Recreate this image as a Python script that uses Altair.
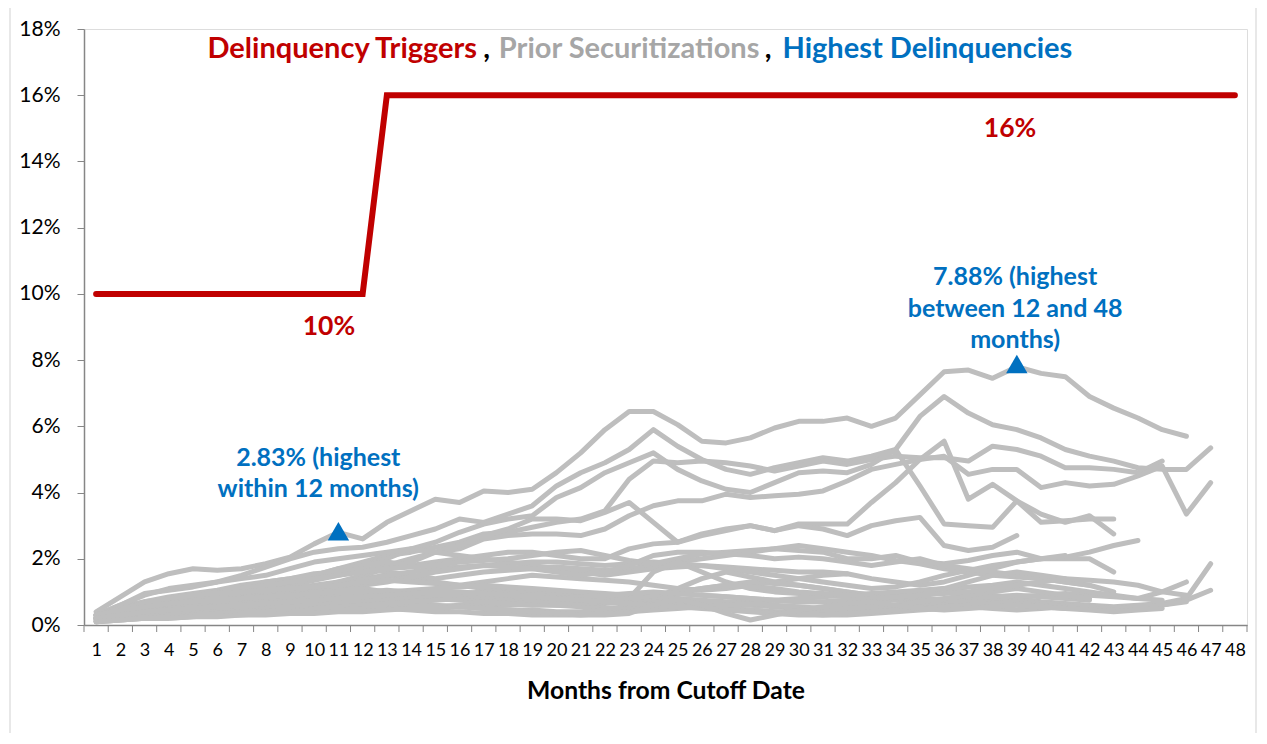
import altair as alt
import pandas as pd

# ---------------- data ----------------
months = list(range(1, 49))

trigger = [10, 10, 10, 10, 10, 10, 10, 10, 10, 10, 10, 10,
           16, 16, 16, 16, 16, 16, 16, 16, 16, 16, 16, 16,
           16, 16, 16, 16, 16, 16, 16, 16, 16, 16, 16, 16,
           16, 16, 16, 16, 16, 16, 16, 16, 16, 16, 16, 16]

deal_01 = [0.4, 0.85, 1.3, 1.55, 1.7, 1.65, 1.7, 1.85, 2.05, 2.45, 2.8, 2.6,
           3.1, 3.45, 3.8, 3.7, 4.05, 4.0, 4.1, 4.6, 5.2, 5.9, 6.45, 6.45,
           6.05, 5.55, 5.5, 5.65, 5.95, 6.15, 6.15, 6.25, 6.0, 6.25, 6.95, 7.65,
           7.7, 7.45, 7.8, 7.6, 7.5, 6.9, 6.55, 6.25, 5.9, 5.7]
deal_02 = [0.3, 0.6, 0.95, 1.05, 1.15, 1.3, 1.5, 1.75, 2.0, 2.2, 2.3, 2.35,
           2.5, 2.7, 2.9, 3.2, 3.1, 3.35, 3.6, 4.2, 4.6, 4.9, 5.3, 5.9,
           5.4, 5.0, 4.7, 4.55, 4.75, 4.9, 5.05, 4.95, 5.1, 5.3, 6.3, 6.9,
           6.4, 6.05, 5.9, 5.65, 5.3, 5.1, 4.95, 4.75, 4.7, 4.7, 5.35]
deal_03 = [0.25, 0.45, 0.6, 0.75, 0.85, 0.95, 1.05, 1.2, 1.35, 1.5, 1.7, 1.9,
           2.1, 2.2, 2.35, 2.5, 2.75, 2.8, 2.95, 3.1, 3.2, 3.45, 4.4, 4.95,
           4.9, 4.95, 4.9, 4.8, 4.65, 4.8, 4.95, 4.85, 5.0, 5.1, 5.05, 5.05,
           4.95, 5.4, 5.3, 5.1, 4.75, 4.75, 4.7, 4.6, 4.95]
deal_04 = [0.2, 0.35, 0.5, 0.6, 0.7, 0.85, 0.95, 1.1, 1.2, 1.35, 1.5, 1.65,
           1.8, 2.0, 2.2, 2.3, 2.6, 2.7, 2.75, 2.75, 2.7, 2.9, 3.3, 3.6,
           3.75, 3.75, 3.95, 3.85, 3.9, 3.95, 4.05, 4.35, 4.7, 4.85, 5.0, 5.1,
           4.55, 4.7, 4.7, 4.15, 4.3, 4.2, 4.25, 4.5, 4.8, 3.35, 4.3]
deal_05 = [0.15, 0.3, 0.4, 0.5, 0.6, 0.7, 0.8, 0.9, 1.0, 1.1, 1.3, 1.5,
           1.7, 1.9, 2.2, 2.4, 2.7, 2.9, 3.2, 3.2, 3.15, 3.4, 3.7, 3.1,
           2.5, 2.75, 2.9, 3.0, 2.85, 3.05, 3.05, 3.05, 3.7, 4.3, 5.0, 5.55,
           3.8, 4.25, 3.75, 3.1, 3.15, 3.2, 3.2]
deal_06 = [0.2, 0.4, 0.55, 0.7, 0.8, 0.9, 1.0, 1.15, 1.3, 1.45, 1.6, 1.8,
           2.0, 2.3, 2.5, 2.8, 3.05, 3.2, 3.3, 3.85, 4.15, 4.6, 4.9, 5.2,
           4.7, 4.35, 4.1, 4.0, 4.3, 4.6, 4.65, 4.6, 4.85, 5.3, 4.2, 3.05,
           3.0, 2.95, 3.75, 3.35, 3.1, 3.3, 2.75]
deal_07 = [0.3, 0.5, 0.7, 0.8, 0.9, 1.0, 1.1, 1.3, 1.4, 1.5, 1.7, 1.8,
           1.9, 1.8, 1.9, 2.0, 2.1, 2.2, 2.2, 2.1, 2.0, 2.0, 2.3, 2.45,
           2.5, 2.7, 2.85, 3.0, 2.85, 3.0, 2.9, 2.7, 3.0, 3.15, 3.25, 2.4,
           2.25, 2.35, 2.7]
deal_08 = [0.2, 0.35, 0.5, 0.6, 0.75, 0.85, 0.9, 1.0, 1.1, 1.2, 1.3, 1.4,
           1.5, 1.4, 1.3, 1.2, 1.3, 1.4, 1.5, 1.45, 1.4, 1.35, 1.3, 1.2,
           1.1, 1.05, 1.1, 1.2, 1.3, 1.4, 1.5, 1.55, 1.4, 1.3, 1.2, 1.3,
           1.5, 1.7, 1.9, 2.0, 2.05, 2.2, 2.4, 2.55]
deal_09 = [0.3, 0.55, 0.7, 0.85, 0.95, 1.05, 1.2, 1.3, 1.4, 1.55, 1.6, 1.7,
           1.6, 1.5, 1.4, 1.5, 1.6, 1.65, 1.7, 1.75, 1.7, 1.65, 1.7, 1.8,
           1.9, 2.0, 2.1, 2.2, 2.3, 2.25, 2.2, 2.0, 2.0, 2.1, 1.9, 1.85,
           1.95, 2.1, 2.2, 2.0, 2.0, 2.0, 1.6]
deal_10 = [0.3, 0.6, 0.9, 1.1, 1.2, 1.3, 1.4, 1.5, 1.7, 1.9, 2.0, 2.1,
           2.2, 2.3, 2.2, 2.1, 2.0, 1.9, 1.8, 1.7, 1.6, 1.5, 1.6, 1.7,
           1.75, 1.8, 1.75, 1.7, 1.65, 1.6, 1.6, 1.55]
deal_11 = [0.2, 0.4, 0.55, 0.65, 0.75, 0.85, 0.95, 1.0, 1.05, 1.1, 1.2, 1.35,
           1.5, 1.6, 1.7, 1.75, 1.8, 1.85, 1.9, 1.9, 1.85, 1.8, 1.85, 1.9,
           1.85, 1.8, 1.7, 1.6, 1.5, 1.4, 1.3, 1.2, 1.1, 1.15, 1.3, 1.5,
           1.65, 1.8, 1.9, 2.0, 2.1]
deal_12 = [0.25, 0.5, 0.65, 0.8, 0.9, 1.0, 1.1, 1.2, 1.3, 1.4, 1.5, 1.6,
           1.7, 1.75, 1.8, 1.9, 1.95, 2.0, 2.1, 2.2, 2.25, 2.1, 1.95, 1.85,
           2.0, 2.15, 2.2, 2.25, 2.3, 2.4, 2.3, 2.2, 2.1, 1.95, 1.85, 1.7,
           1.6, 1.5, 1.45, 1.4, 1.3, 1.2]
deal_13 = [0.2, 0.35, 0.45, 0.55, 0.65, 0.75, 0.8, 0.9, 1.0, 1.05, 1.1, 1.2,
           1.3, 1.45, 1.6, 1.7, 1.8, 1.75, 1.7, 1.6, 1.5, 1.6, 1.8, 2.1,
           2.2, 2.2, 2.15, 2.1, 2.0, 2.05, 2.0, 1.9, 1.8, 1.9, 2.0, 1.8,
           1.7, 1.6, 1.5, 1.4, 1.3, 1.2, 1.0]
deal_14 = [0.1, 0.15, 0.2, 0.2, 0.25, 0.3, 0.3, 0.35, 0.4, 0.4, 0.45, 0.5,
           0.5, 0.55, 0.55, 0.6, 0.6, 0.6, 0.65, 0.6, 0.6, 0.65, 0.7, 0.75,
           0.7, 0.7, 0.65, 0.6, 0.55, 0.5, 0.45, 0.45, 0.5, 0.5, 0.55, 0.6,
           0.55, 0.5, 0.45, 0.5, 0.55, 0.5, 0.45, 0.5, 0.6, 0.75, 1.05]
deal_15 = [0.2, 0.3, 0.35, 0.4, 0.45, 0.5, 0.55, 0.6, 0.7, 0.75, 0.8, 0.85,
           0.9, 0.85, 0.9, 0.8, 0.75, 0.7, 0.7, 0.75, 0.8, 0.8, 0.85, 0.9,
           1.0, 1.1, 1.2, 1.3, 1.25, 1.2, 1.1, 1.0, 0.9, 0.95, 1.0, 1.1,
           1.0, 0.9, 0.8, 0.7, 0.65, 0.6, 0.55, 0.6, 0.65, 0.8, 1.85]
deal_16 = [0.15, 0.25, 0.3, 0.35, 0.4, 0.45, 0.5, 0.55, 0.55, 0.6, 0.65, 0.7,
           0.7, 0.75, 0.8, 0.75, 0.7, 0.65, 0.6, 0.6, 0.55, 0.5, 0.55, 0.6,
           0.6, 0.55, 0.5, 0.45, 0.4, 0.4, 0.35, 0.35, 0.4, 0.45, 0.5, 0.6,
           0.7, 0.75, 0.7, 0.65, 0.6, 0.55, 0.5, 0.55, 0.6, 0.7]
deal_17 = [0.3, 0.5, 0.65, 0.8, 0.9, 0.95, 1.0, 1.05, 1.1, 1.15, 1.2, 1.3,
           1.35, 1.3, 1.25, 1.2, 1.1, 1.05, 1.0, 0.95, 0.9, 0.85, 0.8, 0.9,
           0.95, 0.9, 0.85, 0.8, 0.75, 0.7, 0.7, 0.65, 0.6, 0.6, 0.65, 0.7,
           0.75, 0.8, 0.85, 0.9, 0.95, 0.9, 0.85, 0.8, 1.0, 1.3]
deal_18 = [0.1, 0.2, 0.25, 0.3, 0.35, 0.35, 0.4, 0.45, 0.45, 0.5, 0.55, 0.6,
           0.6, 0.65, 0.6, 0.55, 0.5, 0.45, 0.45, 0.4, 0.4, 0.45, 0.5, 0.55,
           0.6, 0.55, 0.5, 0.45, 0.4, 0.35, 0.3, 0.3, 0.35, 0.4, 0.45, 0.5,
           0.55, 0.6, 0.65, 0.6, 0.55]
deal_19 = [0.2, 0.4, 0.5, 0.55, 0.6, 0.7, 0.75, 0.85, 0.9, 1.0, 1.05, 1.1,
           1.0, 0.95, 0.9, 0.95, 1.0, 0.95, 0.9, 0.85, 0.8, 0.75, 0.8, 1.6,
           1.9, 1.6, 1.3, 1.1, 1.0, 0.95, 0.9, 0.85, 0.8, 0.75, 0.7, 0.75,
           0.8, 0.85, 0.9, 0.85, 0.8, 0.75]
deal_20 = [0.1, 0.15, 0.2, 0.25, 0.3, 0.35, 0.4, 0.4, 0.45, 0.5, 0.55, 0.6,
           0.65, 0.7, 0.75, 0.8, 0.85, 0.85, 0.8, 0.75, 0.7, 0.7, 0.75, 0.8,
           1.1, 1.4, 1.6, 1.45, 1.3, 1.2, 1.1, 1.0, 0.9, 0.85, 0.8, 0.75,
           0.7, 0.65, 0.6, 0.55, 0.5, 0.5, 0.45]
deal_21 = [0.2, 0.3, 0.4, 0.5, 0.6, 0.65, 0.7, 0.75, 0.8, 0.85, 0.9, 0.95,
           1.0, 1.05, 1.1, 1.15, 1.2, 1.15, 1.1, 1.05, 1.0, 0.95, 0.9, 0.85,
           0.8, 0.75, 0.7, 0.7, 0.75, 0.8, 0.85, 0.9, 0.95, 1.0, 1.05, 1.1,
           1.15, 1.2, 1.3, 1.2, 1.1, 1.0, 0.9, 0.8, 0.75]
deal_22 = [0.1, 0.2, 0.25, 0.3, 0.3, 0.35, 0.35, 0.4, 0.4, 0.45, 0.45, 0.5,
           0.5, 0.45, 0.4, 0.4, 0.35, 0.35, 0.3, 0.3, 0.3, 0.35, 0.4, 0.45,
           0.5, 0.55, 0.6, 0.65, 0.6, 0.55, 0.5, 0.5, 0.55, 0.6, 0.7, 0.8,
           0.9, 1.0, 1.1, 1.0, 0.9, 0.8]
deal_23 = [0.3, 0.45, 0.55, 0.65, 0.7, 0.75, 0.8, 0.85, 0.9, 0.95, 1.0, 1.0,
           1.05, 1.0, 0.95, 0.9, 0.85, 0.8, 0.75, 0.7, 0.65, 0.7, 0.8, 0.9,
           1.0, 1.1, 1.2, 1.15, 1.1, 1.0, 0.95, 0.9, 0.85, 0.8, 0.9, 1.1,
           1.3, 1.5, 1.6, 1.5, 1.4]
deal_24 = [0.15, 0.25, 0.35, 0.4, 0.45, 0.5, 0.55, 0.6, 0.6, 0.65, 0.7, 0.75,
           0.8, 0.85, 0.9, 0.95, 0.9, 0.85, 0.8, 0.8, 0.85, 0.9, 0.95, 1.0,
           0.95, 0.9, 0.85, 0.8, 0.75, 0.7, 0.7, 0.75, 0.8, 0.85, 0.9, 0.95,
           1.0, 1.1, 1.2, 1.3, 1.4, 1.35, 1.3, 1.2, 1.0, 0.9]
deal_25 = [0.2, 0.3, 0.4, 0.45, 0.5, 0.55, 0.6, 0.65, 0.7, 0.75, 0.8, 0.85,
           0.9, 0.95, 1.0, 1.0, 0.95, 0.9, 0.85, 0.8, 0.75, 0.7, 0.65, 0.6,
           0.55, 0.5, 0.45, 0.4, 0.35, 0.3, 0.3, 0.35, 0.4, 0.45, 0.5, 0.55,
           0.6, 0.65, 0.7]
deal_26 = [0.1, 0.15, 0.2, 0.2, 0.25, 0.25, 0.3, 0.3, 0.35, 0.35, 0.4, 0.4,
           0.45, 0.5, 0.5, 0.55, 0.5, 0.45, 0.4, 0.35, 0.3, 0.3, 0.35, 0.6,
           0.8, 0.6, 0.35, 0.15, 0.3, 0.45, 0.55, 0.65, 0.7, 0.6, 0.5, 0.45,
           0.5, 0.55, 0.6, 0.55, 0.5, 0.45, 0.4, 0.45, 0.5]

prior_deals = {
    "Deal 01": deal_01, "Deal 02": deal_02, "Deal 03": deal_03, "Deal 04": deal_04,
    "Deal 05": deal_05, "Deal 06": deal_06, "Deal 07": deal_07, "Deal 08": deal_08,
    "Deal 09": deal_09, "Deal 10": deal_10, "Deal 11": deal_11, "Deal 12": deal_12,
    "Deal 13": deal_13, "Deal 14": deal_14, "Deal 15": deal_15, "Deal 16": deal_16,
    "Deal 17": deal_17, "Deal 18": deal_18, "Deal 19": deal_19, "Deal 20": deal_20,
    "Deal 21": deal_21, "Deal 22": deal_22, "Deal 23": deal_23, "Deal 24": deal_24,
    "Deal 25": deal_25, "Deal 26": deal_26,
}

highest_months = [11, 39]
highest_values = [2.83, 7.88]

title_parts = ["Delinquency Triggers", ",", "Prior Securitizations", ",", "Highest Delinquencies"]
title_colors = ["#C00000", "#000000", "#A6A6A6", "#000000", "#0070C0"]
title_x = [11.16, 17.12, 23.0, 28.74, 35.31]

y_ticks = [0, 2, 4, 6, 8, 10, 12, 14, 16, 18]
band_edges = [m - 0.5 for m in months] + [48.5]

# ---------------- tables ----------------
prior_df = pd.DataFrame(
    [(name, i + 1, v) for name, vals in prior_deals.items() for i, v in enumerate(vals)],
    columns=["deal", "month", "rate"],
)
trig_df = pd.DataFrame({"month": months, "rate": trigger})
hi_df = pd.DataFrame({"month": highest_months, "rate": highest_values})
edge_df = pd.DataFrame({"month": band_edges})
title_df = pd.DataFrame({"month": title_x, "rate": [17.12] * 5, "text": title_parts, "color": title_colors})
trig_lbl_df = pd.DataFrame({"month": [10.61, 38.72], "rate": [8.76, 14.74], "text": ["10%", "16%"]})
ann_df = pd.DataFrame({
    "month": [10.17, 10.17, 38.93, 38.93, 38.93],
    "rate": [4.80, 3.86, 10.27, 9.30, 8.36],
    "text": ["2.83% (highest", "within 12 months)", "7.88% (highest", "between 12 and 48", "months)"],
})

FONT = "Lato"
AXIS_GRAY = "#868686"

x_scale = alt.Scale(domain=[0.5, 48.5], nice=False, zero=False)
y_scale = alt.Scale(domain=[0, 18], nice=False)

x_axis = alt.Axis(
    values=months,
    format="d",
    labelOverlap=False,
    labelFlush=False,
    labelSeparation=0,
    labelFont=FONT,
    labelFontSize=18,
    labelColor="#000000",
    labelPadding=9,
    tickColor="transparent",
    tickSize=7,
    domainColor=AXIS_GRAY,
    domainWidth=1.5,
    grid=False,
    title="Months from Cutoff Date",
    titleFont=FONT,
    titleFontSize=24.7,
    titleFontWeight="bold",
    titleColor="#000000",
    titlePadding=19,
)
y_axis = alt.Axis(
    values=y_ticks,
    labelExpr="datum.value + '%'",
    labelFont=FONT,
    labelFontSize=21,
    labelColor="#000000",
    labelPadding=17,
    tickColor=AXIS_GRAY,
    tickSize=7,
    domainColor=AXIS_GRAY,
    domainWidth=1.5,
    grid=False,
    title=None,
)

x_enc = alt.X("month:Q", scale=x_scale, axis=x_axis)
y_enc = alt.Y("rate:Q", scale=y_scale, axis=y_axis)

frame = alt.Chart(pd.DataFrame({"k": [0]})).mark_rect(
    fill="transparent", stroke="#D9D9D9", strokeWidth=1.2
).encode(x=alt.value(-74), x2=alt.value(1172), y=alt.value(-22), y2=alt.value(760))

edges = alt.Chart(edge_df).mark_rule(color=AXIS_GRAY, strokeWidth=1).encode(
    x=alt.X("month:Q", scale=x_scale, axis=x_axis), y=alt.value(596), y2=alt.value(603)
)

prior = alt.Chart(prior_df).mark_line(
    color="#BEBEBE", strokeWidth=5, strokeJoin="round", strokeCap="round"
).encode(x=x_enc, y=y_enc, detail="deal:N", order="month:Q")

trig = alt.Chart(trig_df).mark_line(
    color="#C00000", strokeWidth=6, strokeJoin="miter", strokeCap="round"
).encode(x=x_enc, y=y_enc)

hi = alt.Chart(hi_df).mark_point(
    shape="triangle-up", size=460, filled=True, fill="#0070C0", color="#0070C0", opacity=1
).encode(x=x_enc, y=y_enc)

title_txt = alt.Chart(title_df).mark_text(
    font=FONT, fontSize=29, fontWeight="bold", baseline="alphabetic", align="center"
).encode(x=x_enc, y=y_enc, text="text:N", color=alt.Color("color:N", scale=None))

trig_txt = alt.Chart(trig_lbl_df).mark_text(
    font=FONT, fontSize=26.5, fontWeight="bold", baseline="alphabetic", align="center", color="#C00000"
).encode(x=x_enc, y=y_enc, text="text:N")

ann_txt = alt.Chart(ann_df).mark_text(
    font=FONT, fontSize=25, fontWeight="bold", baseline="alphabetic", align="center", color="#0070C0"
).encode(x=x_enc, y=y_enc, text="text:N")

chart = alt.layer(frame, prior, edges, trig, hi, title_txt, trig_txt, ann_txt).properties(
    width=1163,
    height=596,
    autosize=alt.AutoSizeParams(type="none"),
    padding={"left": 76, "top": 21, "right": 10, "bottom": 108},
).configure_view(stroke=None).configure(background="white").configure_axisX(
    labelOverlap=False, labelSeparation=0
)

chart.save("out.html", embed_options={"renderer": "svg", "actions": False})
